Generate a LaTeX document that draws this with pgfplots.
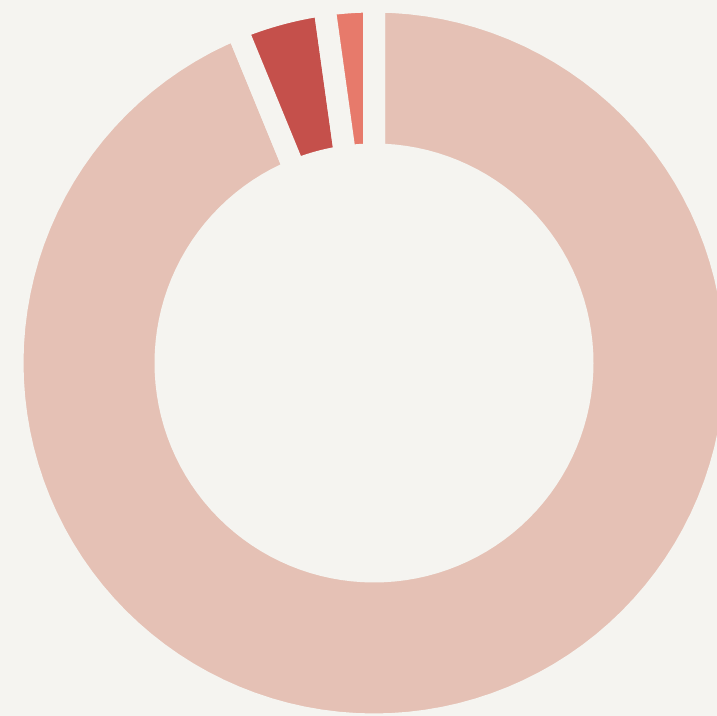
\documentclass[border=0pt]{standalone}
\usepackage{pgfplots}
\usepackage{pgfplotstable}
\pgfplotsset{compat=1.18}
\definecolor{bgc}{RGB}{245,244,240}
\definecolor{cbig}{RGB}{229,193,181}
\definecolor{cdark}{RGB}{197,80,75}
\definecolor{ccoral}{RGB}{231,122,107}
% shares (percent), clockwise from 12 o'clock
\pgfplotstableread{
label value
A 93.8
B 4.0
C 2.2
}\datatable
\begin{document}
\begin{tikzpicture}
\pgfplotstablegetelem{0}{value}\of\datatable \let\va\pgfplotsretval
\pgfplotstablegetelem{1}{value}\of\datatable \let\vb\pgfplotsretval
\pgfplotstablegetelem{2}{value}\of\datatable \let\vc\pgfplotsretval
\pgfmathsetmacro{\aA}{0}
\pgfmathsetmacro{\aB}{\aA+3.6*\va}
\pgfmathsetmacro{\aC}{\aB+3.6*\vb}
\pgfmathsetmacro{\aD}{\aC+3.6*\vc}
\begin{axis}[
  hide axis, scale only axis,
  width=358.5pt, height=358pt,
  xmin=0, xmax=717, ymin=0, ymax=716,
  clip=true,
  declare function={
    rho(\t)=(\t<1)*361.5 + (\t>=1)*(\t<2)*(361.5-(361.5-208.5)*(\t-1)) + (\t>=2)*208.5;
    ang(\t,\a,\b)=(\t<1)*(\a+(\b-\a)*\t) + (\t>=1)*(\t<2)*\b + (\t>=2)*(\b-(\b-\a)*(\t-2));
  },
]
\fill[bgc] (rel axis cs:0,0) rectangle (rel axis cs:1,1);
\addplot[fill=cbig, draw=bgc, line width=11pt, line join=miter, domain=0:3, samples=361, variable=\t]
  ({374+rho(\t)*cos(90-ang(\t,\aA,\aB))}, {353+rho(\t)*sin(90-ang(\t,\aA,\aB))}) -- cycle;
\addplot[fill=cdark, draw=bgc, line width=11pt, line join=miter, domain=0:3, samples=181, variable=\t]
  ({374+rho(\t)*cos(90-ang(\t,\aB,\aC))}, {353+rho(\t)*sin(90-ang(\t,\aB,\aC))}) -- cycle;
\addplot[fill=ccoral, draw=bgc, line width=11pt, line join=miter, domain=0:3, samples=181, variable=\t]
  ({374+rho(\t)*cos(90-ang(\t,\aC,\aD))}, {353+rho(\t)*sin(90-ang(\t,\aC,\aD))}) -- cycle;
\end{axis}
\pgfresetboundingbox
\path (current axis.south west) rectangle (current axis.north east);
\end{tikzpicture}
\end{document}
